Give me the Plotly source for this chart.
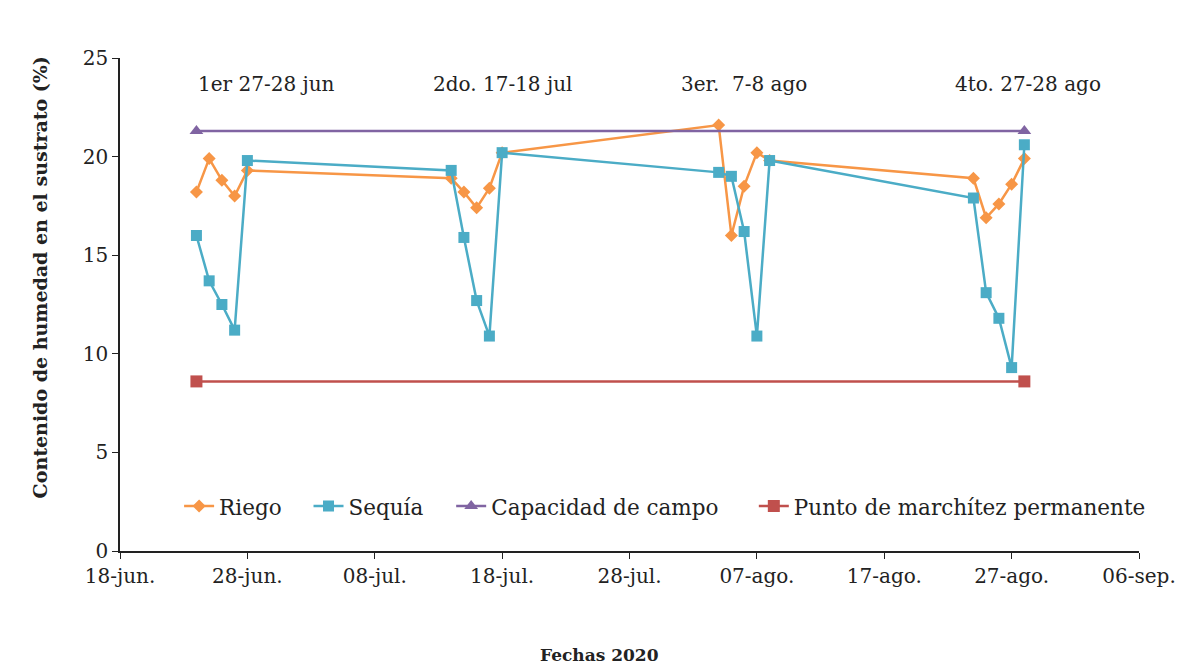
import plotly.graph_objects as go

# Fechas de medicion (4 ciclos de 5 dias)
fechas = [
    "2020-06-24", "2020-06-25", "2020-06-26", "2020-06-27", "2020-06-28",
    "2020-07-14", "2020-07-15", "2020-07-16", "2020-07-17", "2020-07-18",
    "2020-08-04", "2020-08-05", "2020-08-06", "2020-08-07", "2020-08-08",
    "2020-08-24", "2020-08-25", "2020-08-26", "2020-08-27", "2020-08-28",
]
riego = [18.2, 19.9, 18.8, 18.0, 19.3,
         18.9, 18.2, 17.4, 18.4, 20.2,
         21.6, 16.0, 18.5, 20.2, 19.8,
         18.9, 16.9, 17.6, 18.6, 19.9]
sequia = [16.0, 13.7, 12.5, 11.2, 19.8,
          19.3, 15.9, 12.7, 10.9, 20.2,
          19.2, 19.0, 16.2, 10.9, 19.8,
          17.9, 13.1, 11.8, 9.3, 20.6]

limites_fechas = ["2020-06-24", "2020-08-28"]
capacidad_campo = [21.3, 21.3]
punto_marchitez = [8.6, 8.6]

tick_fechas = ["2020-06-18", "2020-06-28", "2020-07-08", "2020-07-18", "2020-07-28",
               "2020-08-07", "2020-08-17", "2020-08-27", "2020-09-06"]
tick_textos = ["18-jun.", "28-jun.", "08-jul.", "18-jul.", "28-jul.",
               "07-ago.", "17-ago.", "27-ago.", "06-sep."]

ciclos_fechas = ["2020-06-29 12:00", "2020-07-18", "2020-08-06", "2020-08-28 06:00"]
ciclos_textos = ["1er 27-28 jun", "2do. 17-18 jul", "3er.  7-8 ago", "4to. 27-28 ago"]

FONT = "DejaVu Serif"

fig = go.Figure()

fig.add_trace(go.Scatter(
    x=fechas, y=riego, mode="lines+markers", name="Riego", legend="legend",
    line=dict(color="#F79646", width=2.5),
    marker=dict(symbol="diamond", size=10, color="#F79646")
))
fig.add_trace(go.Scatter(
    x=fechas, y=sequia, mode="lines+markers", name="Sequía", legend="legend2",
    line=dict(color="#4BACC6", width=2.5),
    marker=dict(symbol="square", size=11, color="#4BACC6")
))
fig.add_trace(go.Scatter(
    x=limites_fechas, y=capacidad_campo, mode="lines+markers", name="Capacidad de campo",
    legend="legend3",
    line=dict(color="#8064A2", width=2.5),
    marker=dict(symbol="triangle-up", size=12, color="#8064A2")
))
fig.add_trace(go.Scatter(
    x=limites_fechas, y=punto_marchitez, mode="lines+markers", name="Punto de marchítez permanente",
    legend="legend4",
    line=dict(color="#C0504D", width=2.5),
    marker=dict(symbol="square", size=12, color="#C0504D")
))

for fx, txt in zip(ciclos_fechas, ciclos_textos):
    fig.add_annotation(x=fx, y=23.7, text=txt, showarrow=False,
                       font=dict(family=FONT, size=20, color="#222"))

fig.add_annotation(text="<b>Fechas 2020</b>", xref="paper", yref="paper",
                   x=0.471, y=-0.21, showarrow=False, yanchor="middle",
                   font=dict(family=FONT, size=17, color="#222"))
fig.add_annotation(text="<b>Contenido de humedad en el sustrato (%)</b>", xref="paper", yref="paper",
                   x=-0.079, y=0.556, showarrow=False, textangle=-90, xanchor="center",
                   font=dict(family=FONT, size=19, color="#222"))

fig.update_xaxes(
    range=["2020-06-18", "2020-09-06"], tickvals=tick_fechas, ticktext=tick_textos,
    showline=True, linecolor="#222", linewidth=1.5, ticks="outside", ticklen=6,
    tickcolor="#222", showgrid=False, zeroline=False, automargin=False,
    tickfont=dict(family=FONT, size=20, color="#222")
)
fig.update_yaxes(
    range=[0, 25], dtick=5, showline=True, linecolor="#222", linewidth=1.5,
    ticks="outside", ticklen=6, tickcolor="#222", showgrid=False, zeroline=False,
    automargin=False,
    tickfont=dict(family=FONT, size=20, color="#222")
)

leg = dict(orientation="h", y=0.091, yanchor="middle", xanchor="left",
           bgcolor="rgba(255,255,255,0)", font=dict(family=FONT, size=21.5, color="#222"))

fig.update_layout(
    width=1181, height=666,
    margin=dict(l=120, r=42, t=58, b=115),
    plot_bgcolor="white", paper_bgcolor="white",
    legend=dict(leg, x=0.058),
    legend2=dict(leg, x=0.185),
    legend3=dict(leg, x=0.325),
    legend4=dict(leg, x=0.622),
    showlegend=True
)

# sin margen del body para que la figura ocupe la ventana completa
fig.write_html("out.html", config={"displayModeBar": False},
               post_script="document.body.style.margin='0';")
